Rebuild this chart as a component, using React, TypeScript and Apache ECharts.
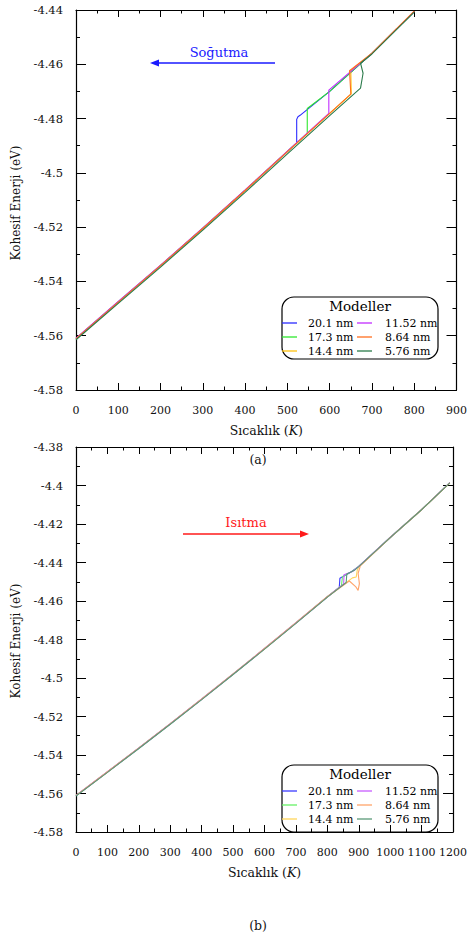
import React, { useEffect, useRef } from "react";
import * as echarts from "echarts";

// ---- Cooling run (panel a): [temperature K, cohesive energy eV], from 800 K down
const sizes = ["20.1 nm", "17.3 nm", "14.4 nm", "11.52 nm", "8.64 nm", "5.76 nm"];
const colorsA = ["#2a2aff", "#2ee82e", "#ffc20e", "#c22cff", "#ff6f1f", "#2a7a4a"];
const colorsB = ["#3a3aff", "#66f266", "#ffd55a", "#c85cff", "#ffa46a", "#5a9a78"];

const cool201: number[][] = [[800, -4.4405], [700, -4.4560], [600, -4.4700], [530, -4.4788], [525, -4.4793], [522, -4.4803], [522, -4.4890], [500, -4.4922], [400, -4.5065], [300, -4.5205], [200, -4.5342], [100, -4.5476], [0, -4.5612]];
const cool173: number[][] = [[800, -4.4405], [700, -4.4560], [600, -4.4700], [547, -4.4763], [547, -4.4855], [500, -4.4921], [400, -4.5064], [300, -4.5204], [200, -4.5341], [100, -4.5475], [0, -4.5610]];
const cool144: number[][] = [[800, -4.4405], [700, -4.4560], [650, -4.4623], [651, -4.4709], [600, -4.4781], [500, -4.4922], [400, -4.5065], [300, -4.5205], [200, -4.5342], [100, -4.5476], [0, -4.5611]];
const cool1152: number[][] = [[800, -4.4405], [700, -4.4560], [598, -4.4695], [598, -4.4781], [500, -4.4920], [400, -4.5063], [300, -4.5203], [200, -4.5340], [100, -4.5474], [0, -4.5609]];
const cool864: number[][] = [[800, -4.4404], [700, -4.4559], [647, -4.4624], [650, -4.4710], [600, -4.4781], [500, -4.4922], [400, -4.5065], [300, -4.5205], [200, -4.5342], [100, -4.5476], [0, -4.5611]];
const cool576: number[][] = [[800, -4.4408], [700, -4.4562], [673, -4.4596], [679, -4.4633], [673, -4.4688], [600, -4.4789], [500, -4.4930], [400, -4.5072], [300, -4.5211], [200, -4.5347], [100, -4.5481], [0, -4.5615]];

// ---- Heating run (panel b): from 0 K up
const heat201: number[][] = [[0, -4.5612], [100, -4.5489], [200, -4.5365], [300, -4.5239], [400, -4.5111], [500, -4.4981], [600, -4.4849], [700, -4.4715], [800, -4.4579], [838, -4.4530], [840, -4.4482], [870, -4.4455], [900, -4.4420], [1000, -4.4270], [1100, -4.4125], [1190, -4.3985]];
const heat173: number[][] = [[0, -4.5611], [100, -4.5488], [200, -4.5364], [300, -4.5238], [400, -4.5110], [500, -4.4980], [600, -4.4848], [700, -4.4714], [800, -4.4578], [845, -4.4520], [848, -4.4474], [875, -4.4450], [900, -4.4420], [1000, -4.4270], [1100, -4.4125], [1190, -4.3985]];
const heat144: number[][] = [[0, -4.5610], [100, -4.5487], [200, -4.5363], [300, -4.5237], [400, -4.5109], [500, -4.4979], [600, -4.4847], [700, -4.4713], [800, -4.4577], [880, -4.4480], [892, -4.4475], [895, -4.4442], [900, -4.4421], [1000, -4.4271], [1100, -4.4126], [1190, -4.3986]];
const heat1152: number[][] = [[0, -4.5610], [100, -4.5487], [200, -4.5363], [300, -4.5237], [400, -4.5109], [500, -4.4979], [600, -4.4847], [700, -4.4713], [800, -4.4577], [852, -4.4512], [853, -4.4464], [880, -4.4447], [900, -4.4420], [1000, -4.4270], [1100, -4.4125], [1190, -4.3985]];
const heat864: number[][] = [[0, -4.5611], [100, -4.5488], [200, -4.5364], [300, -4.5238], [400, -4.5110], [500, -4.4980], [600, -4.4848], [700, -4.4714], [800, -4.4578], [870, -4.4496], [890, -4.4525], [898, -4.4545], [902, -4.4510], [898, -4.4456], [905, -4.4418], [1000, -4.4271], [1100, -4.4126], [1190, -4.3986]];
const heat576: number[][] = [[0, -4.5613], [100, -4.5490], [200, -4.5366], [300, -4.5240], [400, -4.5112], [500, -4.4982], [600, -4.4850], [700, -4.4716], [800, -4.4580], [860, -4.4504], [862, -4.4460], [885, -4.4442], [900, -4.4421], [1000, -4.4271], [1100, -4.4126], [1190, -4.3986]];

const coolRuns = [cool201, cool173, cool144, cool1152, cool864, cool576];
const heatRuns = [heat201, heat173, heat144, heat1152, heat864, heat576];

const xTicksA = { min: 0, max: 900, interval: 100 };
const xTicksB = { min: 0, max: 1200, interval: 100 };
const yTicksA = { min: -4.58, max: -4.44, interval: 0.02 };
const yTicksB = { min: -4.58, max: -4.38, interval: 0.02 };

const FONT = "'DejaVu Serif', 'Liberation Serif', serif";

function xAxisPair(grid: number, t: { min: number; max: number; interval: number }) {
  const base = {
    gridIndex: grid,
    type: "value" as const,
    min: t.min,
    max: t.max,
    interval: t.interval,
    axisLine: { show: true, onZero: false, lineStyle: { color: "#000", width: 1.2 } },
    axisTick: { show: true, inside: true, length: 7, lineStyle: { color: "#000", width: 1 } },
    minorTick: { show: true, splitNumber: 2, length: 3.5, lineStyle: { color: "#000", width: 1 } },
    splitLine: { show: false },
  };
  return [
    {
      ...base,
      position: "bottom",
      axisLabel: {
        color: "#111",
        fontFamily: FONT,
        fontSize: 11,
        margin: 15,
        formatter: (v: number) => String(Math.round(v)),
      },
      name: "Sıcaklık ({i|K})",
      nameLocation: "middle",
      nameGap: 34,
      nameTextStyle: {
        color: "#111",
        fontFamily: FONT,
        fontSize: 12.5,
        rich: { i: { fontFamily: FONT, fontSize: 12.5, fontStyle: "italic", color: "#111" } },
      },
    },
    { ...base, position: "top", axisLabel: { show: false } },
  ];
}

function yAxisPair(grid: number, t: { min: number; max: number; interval: number }) {
  const base = {
    gridIndex: grid,
    type: "value" as const,
    min: t.min,
    max: t.max,
    interval: t.interval,
    axisLine: { show: true, onZero: false, lineStyle: { color: "#000", width: 1.2 } },
    axisTick: { show: true, inside: true, length: 10, lineStyle: { color: "#000", width: 1 } },
    minorTick: { show: true, splitNumber: 2, length: 4, lineStyle: { color: "#000", width: 1 } },
    splitLine: { show: false },
  };
  return [
    {
      ...base,
      position: "left",
      axisLabel: {
        color: "#111",
        fontFamily: FONT,
        fontSize: 11.5,
        margin: 13,
        formatter: (v: number) => String(Math.round(v * 100) / 100),
      },
    },
    { ...base, position: "right", axisLabel: { show: false } },
  ];
}

function legendBox(left: number, top: number, height: number, colors: string[]) {
  const children: any[] = [
    {
      type: "rect",
      shape: { x: left, y: top, width: 156, height, r: 12 },
      style: { fill: "#fff", stroke: "#000", lineWidth: 1.2 },
    },
    {
      type: "text",
      x: left + 78,
      y: top + 9,
      style: { text: "Modeller", font: `13.5px ${FONT}`, fill: "#000", align: "center", verticalAlign: "middle" },
    },
  ];
  sizes.forEach((s, i) => {
    const col = i < 3 ? 0 : 1;
    const row = i % 3;
    const y = top + 26 + row * 14;
    const lx = left + (col === 0 ? 0 : 75);
    children.push({
      type: "line",
      shape: { x1: lx, y1: y, x2: lx + 15, y2: y },
      style: { stroke: colors[i], lineWidth: 1.3 },
    });
    children.push({
      type: "text",
      x: col === 0 ? left + 26 : left + 103,
      y,
      style: { text: s, font: `11px ${FONT}`, fill: "#000", align: "left", verticalAlign: "middle" },
    });
  });
  return { type: "group", children };
}

function arrow(x1: number, x2: number, y: number, color: string) {
  const dir = x2 > x1 ? 1 : -1;
  return {
    type: "group",
    children: [
      { type: "line", shape: { x1, y1: y, x2: x2 - dir * 6, y2: y }, style: { stroke: color, lineWidth: 1.3 } },
      {
        type: "polygon",
        shape: { points: [[x2, y], [x2 - dir * 9, y - 3.5], [x2 - dir * 9, y + 3.5]] },
        style: { fill: color },
      },
    ],
  };
}

export default function App() {
  const ref = useRef<HTMLDivElement>(null);

  useEffect(() => {
    if (!ref.current) return;
    const chart = echarts.init(ref.current, undefined, { renderer: "svg" });

    const series: any[] = [];
    coolRuns.forEach((d, i) =>
      series.push({
        name: sizes[i],
        type: "line",
        xAxisIndex: 0,
        yAxisIndex: 0,
        data: d,
        showSymbol: false,
        lineStyle: { color: colorsA[i], width: 1.1 },
        itemStyle: { color: colorsA[i] },
        z: 2 + i,
      })
    );
    heatRuns.forEach((d, i) =>
      series.push({
        name: sizes[i] + " ",
        type: "line",
        xAxisIndex: 2,
        yAxisIndex: 2,
        data: d,
        showSymbol: false,
        lineStyle: { color: colorsB[i], width: 1.1 },
        itemStyle: { color: colorsB[i] },
        z: 2 + i,
      })
    );

    const [xa0, xa1] = xAxisPair(0, xTicksA);
    const [xb0, xb1] = xAxisPair(1, xTicksB);
    const [ya0, ya1] = yAxisPair(0, yTicksA);
    const [yb0, yb1] = yAxisPair(1, yTicksB);

    chart.setOption({
      animation: false,
      backgroundColor: "#fff",
      grid: [
        { left: 76, top: 10, width: 382, height: 380 },
        { left: 76, top: 447, width: 382, height: 385 },
      ],
      xAxis: [xa0, xa1, xb0, xb1],
      yAxis: [ya0, ya1, yb0, yb1],
      series,
      graphic: [
        {
          type: "text",
          x: 16,
          y: 203,
          rotation: Math.PI / 2,
          style: { text: "Kohesif Enerji (eV)", font: `12px ${FONT}`, fill: "#111", align: "center", verticalAlign: "middle" },
        },
        {
          type: "text",
          x: 16,
          y: 641,
          rotation: Math.PI / 2,
          style: { text: "Kohesif Enerji (eV)", font: `12px ${FONT}`, fill: "#111", align: "center", verticalAlign: "middle" },
        },
        {
          type: "text",
          x: 258,
          y: 459,
          style: { text: "(a)", font: `12.5px ${FONT}`, fill: "#111", align: "center", verticalAlign: "middle" },
        },
        {
          type: "text",
          x: 258,
          y: 925,
          style: { text: "(b)", font: `12.5px ${FONT}`, fill: "#111", align: "center", verticalAlign: "middle" },
        },
        {
          type: "text",
          x: 219,
          y: 52,
          style: { text: "Soğutma", font: `13px ${FONT}`, fill: "#2020ff", align: "center", verticalAlign: "middle" },
        },
        arrow(275, 150, 63, "#1a1aff"),
        {
          type: "text",
          x: 246,
          y: 522,
          style: { text: "Isıtma", font: `13px ${FONT}`, fill: "#ff1a1a", align: "center", verticalAlign: "middle" },
        },
        arrow(183, 309, 534, "#ff1a1a"),
        legendBox(282, 297, 62, colorsA),
        legendBox(282, 765, 67, colorsB),
      ],
    });

    return () => chart.dispose();
  }, []);

  return (
    <div
      ref={ref}
      style={{ position: "fixed", left: 0, top: 0, width: 470, height: 942, background: "#fff" }}
    />
  );
}
